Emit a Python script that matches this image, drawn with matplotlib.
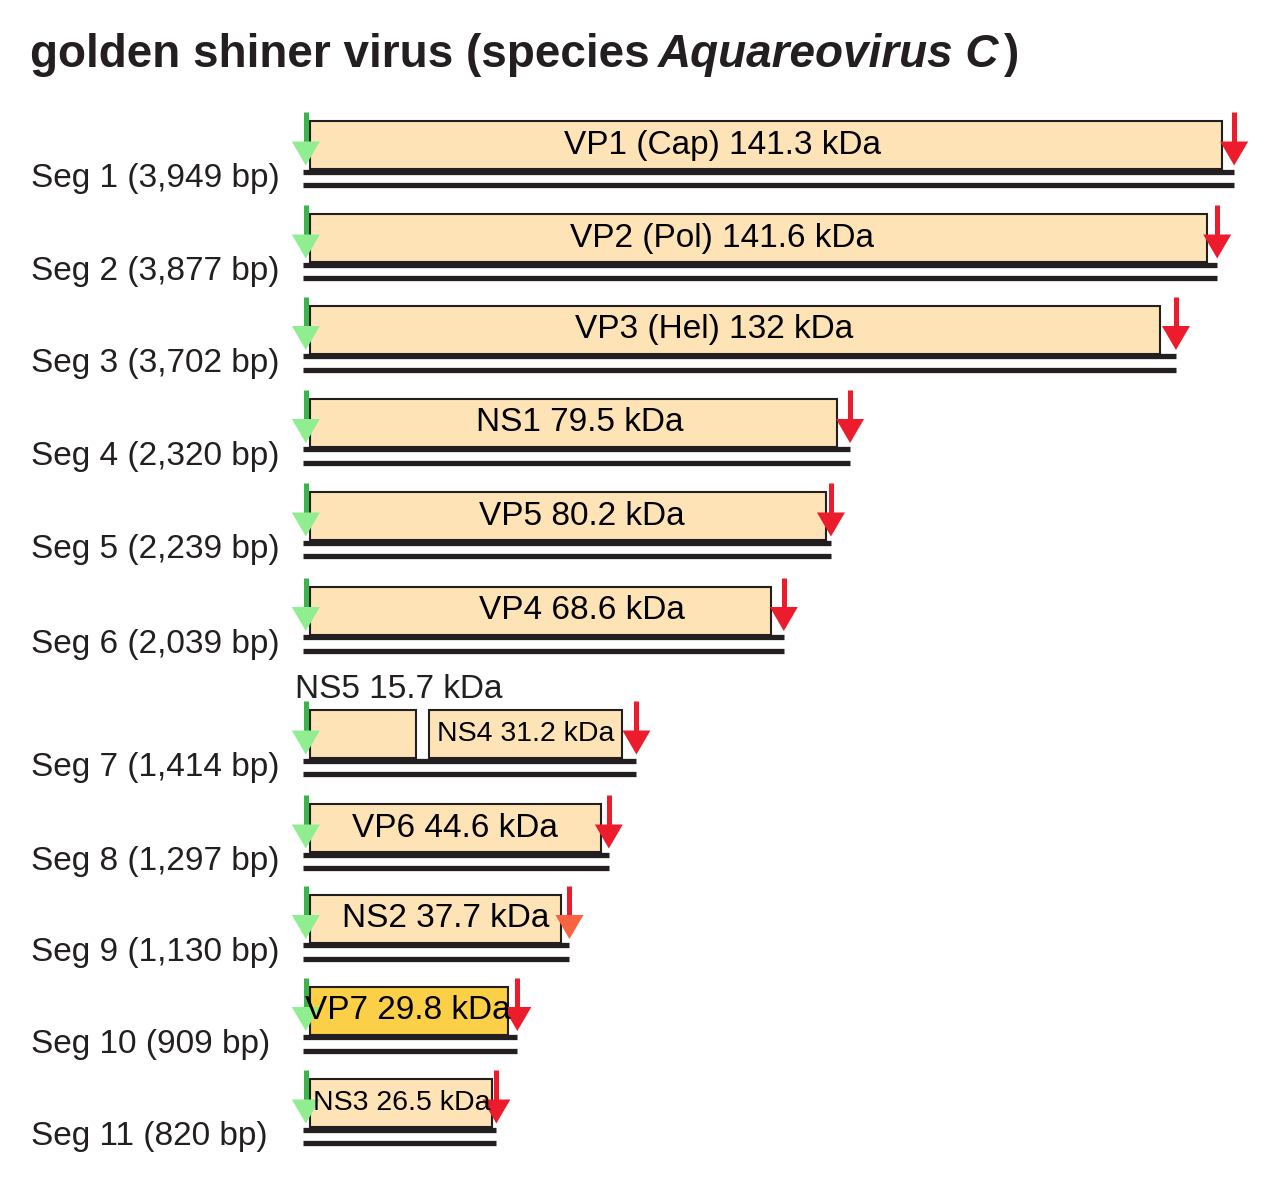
import matplotlib
matplotlib.use("Agg")
import matplotlib.pyplot as plt
from matplotlib.patches import Rectangle, Polygon

plt.rcParams['font.family'] = ['Liberation Sans', 'DejaVu Sans']

# Data
seg_names = ['Seg 1', 'Seg 2', 'Seg 3', 'Seg 4', 'Seg 5', 'Seg 6',
             'Seg 7', 'Seg 8', 'Seg 9', 'Seg 10', 'Seg 11']
seg_bp = [3949, 3877, 3702, 2320, 2239, 2039, 1414, 1297, 1130, 909, 820]

orf_seg = [0, 1, 2, 3, 4, 5, 6, 6, 7, 8, 9, 10]
orf_names = ['VP1 (Cap)', 'VP2 (Pol)', 'VP3 (Hel)', 'NS1', 'VP5', 'VP4',
             'NS5', 'NS4', 'VP6', 'NS2', 'VP7', 'NS3']
orf_kda = [141.3, 141.6, 132, 79.5, 80.2, 68.6, 15.7, 31.2, 44.6, 37.7, 29.8, 26.5]
orf_start = [28, 28, 28, 28, 28, 28, 28, 534, 28, 28, 28, 28]
orf_end = [3897, 3834, 3634, 2265, 2218, 1985, 479, 1353, 1264, 1094, 869, 802]

# Layout / style
W, H = 1279, 1183
px_per_bp = 0.2358
x0 = 303
row_y = [171.5, 264.5, 356, 449, 542.5, 637, 760.5, 854.5, 945, 1037, 1129.5]
label_frac = [0.453, 0.46, 0.476, 0.512, 0.527, 0.59, None, 0.50, 0.498, 0.54, 0.495, 0.505]
label_size = [24, 24, 24, 24, 24, 24, 24, 20.5, 24, 24, 24, 20.5]
box_color = ['#fde3b6'] * 10 + ['#fbcf46', '#fde3b6']
red_head = ['#ec1c2c'] * 8 + ['#fa6242', '#ec1c2c', '#ec1c2c']
dark = '#231f20'

fig = plt.figure(figsize=(W / 100, H / 100), dpi=100)
ax = fig.add_axes([0, 0, 1, 1])
ax.set_xlim(-x0 / px_per_bp, (W - x0) / px_per_bp)
ax.set_ylim(H, 0)
ax.axis('off')

hw = 14 / px_per_bp  # arrow head half width in bp


def arrow(x, y, stem_col, head_col):
    ax.plot([x, x], [y - 59.5, y - 26], lw=3.6, color=stem_col,
            solid_capstyle='butt', zorder=3)
    ax.add_patch(Polygon([(x - hw, y - 30), (x + hw, y - 30), (x, y - 6)],
                         closed=True, color=head_col, lw=0, zorder=3))


# segments
for i, name in enumerate(seg_names):
    y = row_y[i]
    L = seg_bp[i]
    ax.plot([0, L], [y, y], lw=3.8, color=dark, solid_capstyle='butt', zorder=2)
    ax.plot([0, L], [y + 13.5, y + 13.5], lw=3.8, color=dark, solid_capstyle='butt', zorder=2)
    ax.text((31 - x0) / px_per_bp, y + 7, f'{name} ({L:,} bp)', fontsize=24,
            color=dark, ha='left', va='center')
    arrow(12, y, '#39b54a', '#90ee90')
    arrow(L, y, '#ec1c2c', red_head[i])

# ORF boxes
for j, s in enumerate(orf_seg):
    y = row_y[s]
    ax.add_patch(Rectangle((orf_start[j], y - 50.5), orf_end[j] - orf_start[j], 48,
                           facecolor=box_color[j], edgecolor=dark, lw=1.5, zorder=1))
    txt = f'{orf_names[j]} {orf_kda[j]} kDa'
    if label_frac[j] is None:
        ax.text((295 - x0) / px_per_bp, y - 71.5, txt, fontsize=label_size[j],
                color=dark, ha='left', va='center', zorder=5)
    else:
        cx = orf_start[j] + label_frac[j] * (orf_end[j] - orf_start[j])
        ax.text(cx, y - 26.5, txt, fontsize=label_size[j], color='black',
                ha='center', va='center', zorder=5)

# Title in three pieces
t1 = fig.text(30 / W, 1 - 67 / H, 'golden shiner virus (species', fontsize=33,
              weight='bold', color=dark, va='baseline')
fig.canvas.draw()
r = fig.canvas.get_renderer()
x1 = t1.get_window_extent(r).x1
t2 = fig.text((x1 + 8) / W, 1 - 67 / H, 'Aquareovirus C', fontsize=33,
              weight='bold', style='italic', color=dark, va='baseline')
fig.canvas.draw()
x2 = t2.get_window_extent(r).x1
fig.text((x2 + 5) / W, 1 - 67 / H, ')', fontsize=33, weight='bold',
         color=dark, va='baseline')

plt.savefig('out.png', dpi=100)
